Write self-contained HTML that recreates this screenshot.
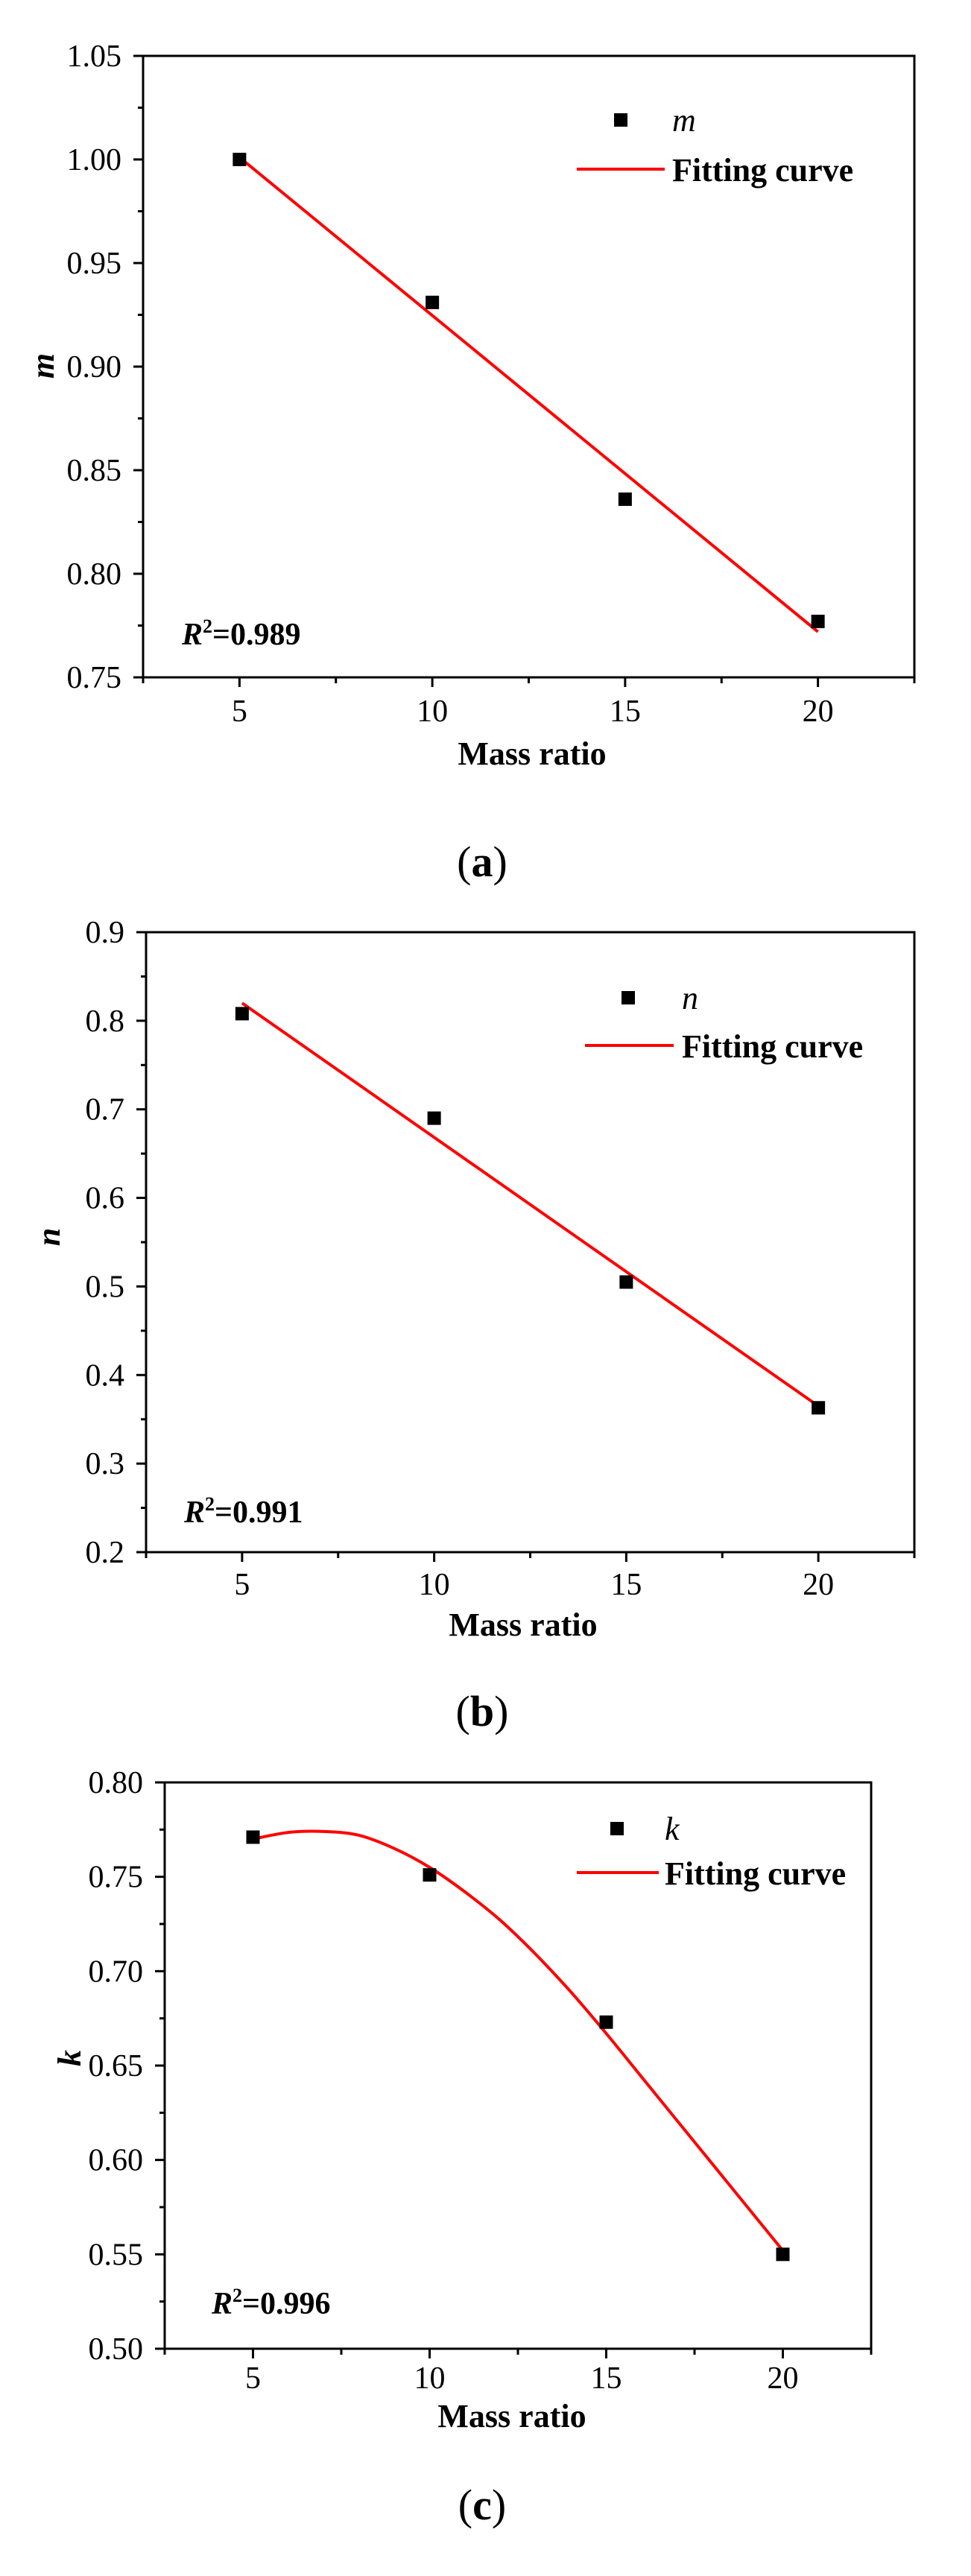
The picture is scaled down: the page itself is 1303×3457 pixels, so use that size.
<!DOCTYPE html>
<html><head><meta charset="utf-8"><style>
html,body{margin:0;padding:0;background:#fff;}
svg{display:block;font-family:"Liberation Serif",serif;}
</style></head><body>
<svg id="fig" width="1303" height="3457" viewBox="0 0 1303 3457" xmlns="http://www.w3.org/2000/svg"></svg>
<script>
// ----- data -----
const xCats = [5, 10, 15, 20];
const xTicks = [5, 10, 15, 20];
const mValues = [1.000, 0.931, 0.836, 0.777];
const mFitX = [5, 20];
const mFitY = [1.001, 0.772];
const mTicks = [0.75, 0.80, 0.85, 0.90, 0.95, 1.00, 1.05];
const mTickLabels = ["0.75","0.80","0.85","0.90","0.95","1.00","1.05"];
const nValues = [0.808, 0.690, 0.505, 0.363];
const nFitX = [5, 20];
const nFitY = [0.820, 0.365];
const nTicks = [0.2, 0.3, 0.4, 0.5, 0.6, 0.7, 0.8, 0.9];
const nTickLabels = ["0.2","0.3","0.4","0.5","0.6","0.7","0.8","0.9"];
const kValues = [0.771, 0.751, 0.673, 0.550];
const kFitX = [5, 6, 7, 8, 9, 10, 11, 12, 13, 14, 15, 16, 17, 18, 19, 20];
const kFitY = [0.770, 0.7735, 0.774, 0.772, 0.765, 0.755, 0.742, 0.727, 0.709, 0.689, 0.667, 0.644, 0.621, 0.598, 0.575, 0.552];
const kTicks = [0.50, 0.55, 0.60, 0.65, 0.70, 0.75, 0.80];
const kTickLabels = ["0.50","0.55","0.60","0.65","0.70","0.75","0.80"];

const NS = "http://www.w3.org/2000/svg";
const fig = document.getElementById('fig');
function mk(tag, attrs, parent, text){
  const e = document.createElementNS(NS, tag);
  for (const k in attrs) e.setAttribute(k, attrs[k]);
  if (text !== undefined) e.textContent = text;
  (parent || fig).appendChild(e);
  return e;
}
function smoothPath(P){
  if (P.length < 3) return 'M' + P.map(p => p[0].toFixed(1) + ',' + p[1].toFixed(1)).join(' L');
  let d = 'M' + P[0][0].toFixed(1) + ',' + P[0][1].toFixed(1);
  for (let i = 0; i < P.length - 1; i++){
    const p0 = P[Math.max(0, i-1)], p1 = P[i], p2 = P[i+1], p3 = P[Math.min(P.length-1, i+2)];
    const c1x = p1[0] + (p2[0]-p0[0])/6, c1y = p1[1] + (p2[1]-p0[1])/6;
    const c2x = p2[0] - (p3[0]-p1[0])/6, c2y = p2[1] - (p3[1]-p1[1])/6;
    d += ' C' + c1x.toFixed(1)+','+c1y.toFixed(1)+' '+c2x.toFixed(1)+','+c2y.toFixed(1)+' '+p2[0].toFixed(1)+','+p2[1].toFixed(1);
  }
  return d;
}

function drawChart(c){
  const g = mk('g', {});
  
  
  const sx = v => c.L + (v - 2.5) / 20 * (c.R - c.L);
  const sy = v => c.B - (v - c.ymin) / (c.ymax - c.ymin) * (c.B - c.T);
  const fr = mk('rect', {x:c.L, y:c.T, width:c.R-c.L, height:c.B-c.T, fill:'none', stroke:'#000', 'stroke-width':3}, g);
  
  
  const step = c.yTicks[1] - c.yTicks[0];
  c.yTicks.forEach((v, i) => {
    const y = sy(v);
    const t = mk('line', {x1:c.L-13, x2:c.L, y1:y, y2:y, stroke:'#000', 'stroke-width':3}, g);
    
    
    const lb = mk('text', {x:c.L-29, y:y+14, 'text-anchor':'end', 'font-size':42}, g, c.yLabels[i]);
    
    
    if (i < c.yTicks.length - 1) {
      const ym = sy(v + step / 2);
      const mt = mk('line', {x1:c.L-7, x2:c.L, y1:ym, y2:ym, stroke:'#000', 'stroke-width':3}, g);
      
      
    }
  });
  xTicks.forEach(v => {
    const x = sx(v);
    const t = mk('line', {x1:x, x2:x, y1:c.B, y2:c.B+13, stroke:'#000', 'stroke-width':3}, g);
    
    
    const lb = mk('text', {x:x, y:c.xLabY, 'text-anchor':'middle', 'font-size':42}, g, String(v));
    
    
  });
  [2.5, 7.5, 12.5, 17.5, 22.5].forEach(v => {
    const x = sx(v);
    const t = mk('line', {x1:x, x2:x, y1:c.B, y2:c.B+8, stroke:'#000', 'stroke-width':3}, g);
    
    
  });
  const xt = mk('text', {x:c.xTitleX, y:c.xTitleY, 'text-anchor':'middle', 'font-size':44, 'font-weight':'bold'}, g, 'Mass ratio');
  
  
  const yt = mk('text', {x:0, y:0, 'text-anchor':'middle', 'font-size':44, 'font-weight':'bold', 'font-style':'italic',
    transform:'translate(' + c.yTitleX + ',' + c.yTitleY + ') rotate(-90)'}, g, c.sym);
  
  
  const P = c.fitX.map((v, i) => [sx(v), sy(c.fitY[i])]);
  const fl = mk('path', {d:smoothPath(P), fill:'none', stroke:'#ff0000', 'stroke-width':4, 'stroke-linejoin':'round'}, g);
  
  
  xCats.forEach((v, i) => {
    const p = mk('rect', {x:sx(v)-9, y:sy(c.values[i])-9, width:18, height:18, fill:'#000'}, g);
    
    
  });
  const lgs = mk('rect', {x:c.legX-9, y:c.legY1-9, width:18, height:18, fill:'#000'}, g);
  
  
  const lgt = mk('text', {x:c.legTX, y:c.legY1+15, 'font-size':44, 'font-style':'italic'}, g, c.sym);
  
  
  const lgl = mk('line', {x1:c.legL1, x2:c.legL2, y1:c.legY2, y2:c.legY2, stroke:'#ff0000', 'stroke-width':4}, g);
  
  
  const lft = mk('text', {x:c.legTX, y:c.legY2+16, 'font-size':44, 'font-weight':'bold'}, g, 'Fitting curve');
  
  
  const r2 = mk('text', {x:c.r2X, y:c.r2Y, 'font-size':42, 'font-weight':'bold'}, g);
  
  
  mk('tspan', {'font-style':'italic'}, r2, 'R');
  mk('tspan', {'font-size':26, dy:-16}, r2, '2');
  mk('tspan', {dy:16}, r2, '=' + c.r2);
  const cap = mk('text', {x:647, y:c.capY, 'text-anchor':'middle', 'font-size':58}, g);
  
  
  mk('tspan', {}, cap, '(');
  mk('tspan', {'font-weight':'bold'}, cap, c.cap);
  mk('tspan', {}, cap, ')');
}

drawChart({name:'m', sym:'m', values:mValues, fitX:mFitX, fitY:mFitY, yTicks:mTicks, yLabels:mTickLabels,
  ymin:0.75, ymax:1.05, L:192, R:1227, T:75, B:909, xLabY:968, xTitleX:714, xTitleY:1026, yTitleX:72, yTitleY:491,
  legX:833, legY1:161, legTX:902, legL1:774, legL2:892, legY2:227, r2X:244, r2Y:865, r2:'0.989', cap:'a', capY:1176});
drawChart({name:'n', sym:'n', values:nValues, fitX:nFitX, fitY:nFitY, yTicks:nTicks, yLabels:nTickLabels,
  ymin:0.2, ymax:0.9, L:196, R:1227, T:1251, B:2083, xLabY:2140, xTitleX:702, xTitleY:2195, yTitleX:80, yTitleY:1660,
  legX:843, legY1:1339, legTX:915, legL1:785, legL2:904, legY2:1403, r2X:247, r2Y:2043, r2:'0.991', cap:'b', capY:2316});
drawChart({name:'k', sym:'k', values:kValues, fitX:kFitX, fitY:kFitY, yTicks:kTicks, yLabels:kTickLabels,
  ymin:0.50, ymax:0.80, L:221, R:1169, T:2392, B:3152, xLabY:3205, xTitleX:687, xTitleY:3257, yTitleX:108, yTitleY:2762,
  legX:828, legY1:2454, legTX:892, legL1:774, legL2:884, legY2:2513, r2X:284, r2Y:3105, r2:'0.996', cap:'c', capY:3381});
</script>
</body></html>
